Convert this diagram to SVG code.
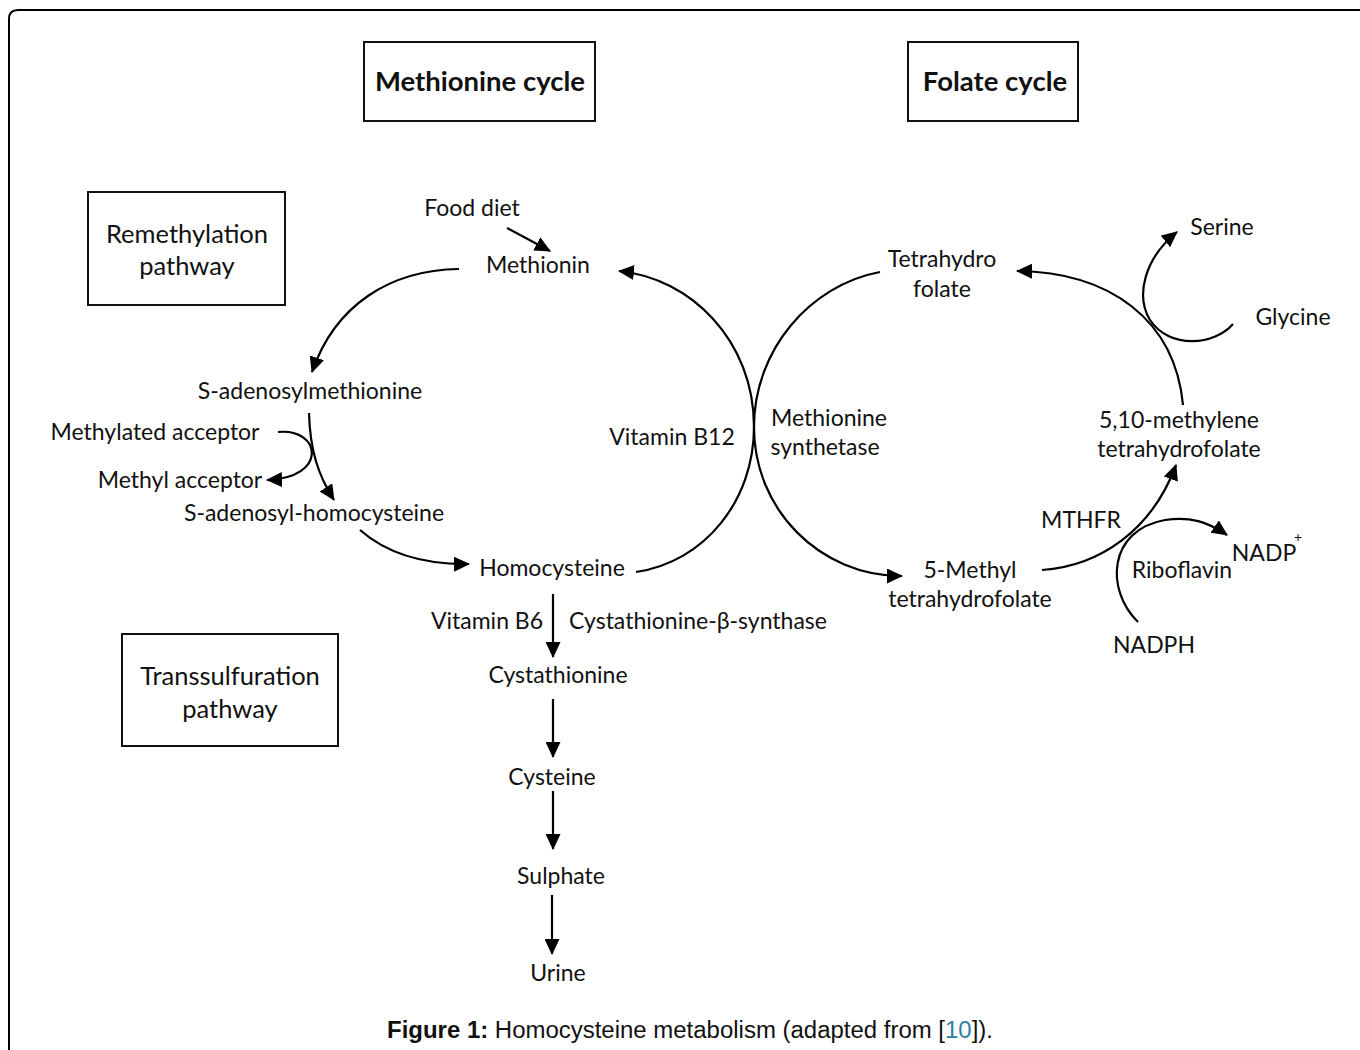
<svg xmlns="http://www.w3.org/2000/svg" width="1360" height="1050" viewBox="0 0 1360 1050">
<style>
text{font-family:Lato,"Open Sans","Liberation Sans",sans-serif;font-size:23px;fill:#111;text-anchor:middle}
.title{font-weight:bold;font-size:27.5px}
.bt{font-size:25.5px}
.box{fill:#fff;stroke:#111;stroke-width:2}
.c{fill:none;stroke:#000;stroke-width:2.2}
.cap{font-family:"Liberation Sans",Arial,sans-serif;font-size:23px}
</style>
<defs>
<marker id="ah" markerUnits="userSpaceOnUse" markerWidth="17" markerHeight="15" refX="15" refY="7.5" orient="auto">
<path d="M0,0 L16,7.5 L0,15 Z" fill="#000"/>
</marker>
</defs>
<rect width="1360" height="1050" fill="#fff"/>
<path d="M9,1050 V19 Q9,10 18,10 H1360" fill="none" stroke="#000" stroke-width="2"/>

<g id="methionine-cycle-title"><rect class="box" x="364" y="42" width="231" height="79"/><text class="title" x="480" y="91">Methionine cycle</text></g>
<g id="folate-cycle-title"><rect class="box" x="908" y="42" width="170" height="79"/><text class="title" x="995" y="91">Folate cycle</text></g>
<g id="remethylation"><rect class="box" x="88" y="192" width="197" height="113"/><text class="bt" x="187" y="243">Remethylation</text><text class="bt" x="187" y="275">pathway</text></g>
<g id="transsulfuration"><rect class="box" x="122" y="634" width="216" height="112"/><text class="bt" x="230" y="685">Transsulfuration</text><text class="bt" x="230" y="718">pathway</text></g>

<g id="food-diet"><text x="472" y="216">Food diet</text></g>
<g id="methionin"><text x="538" y="273">Methionin</text></g>
<g id="sam"><text x="310" y="399">S-adenosylmethionine</text></g>
<g id="methylated-acceptor"><text x="155" y="440">Methylated acceptor</text></g>
<g id="methyl-acceptor"><text x="180" y="488">Methyl acceptor</text></g>
<g id="sah"><text x="314" y="521">S-adenosyl-homocysteine</text></g>
<g id="homocysteine"><text x="552" y="576">Homocysteine</text></g>
<g id="vitamin-b12"><text x="672" y="445">Vitamin B12</text></g>
<g id="methionine-synthetase"><text x="829" y="426">Methionine</text><text x="825" y="455">synthetase</text></g>
<g id="thf"><text x="942" y="267">Tetrahydro</text><text x="942" y="297">folate</text></g>
<g id="serine"><text x="1222" y="235">Serine</text></g>
<g id="glycine"><text x="1293" y="325">Glycine</text></g>
<g id="methylene-thf"><text x="1179" y="428">5,10-methylene</text><text x="1179" y="457">tetrahydrofolate</text></g>
<g id="mthfr"><text x="1081" y="528">MTHFR</text></g>
<g id="nadp"><text x="1264" y="561">NADP</text><text x="1298" y="542" style="font-size:14px">+</text></g>
<g id="riboflavin"><text x="1182" y="578">Riboflavin</text></g>
<g id="methyl-thf"><text x="970" y="578">5-Methyl</text><text x="970" y="607">tetrahydrofolate</text></g>
<g id="nadph"><text x="1154" y="653">NADPH</text></g>
<g id="vitamin-b6"><text x="487" y="629">Vitamin B6</text></g>
<g id="cbs"><text x="698" y="629">Cystathionine-β-synthase</text></g>
<g id="cystathionine"><text x="558" y="683">Cystathionine</text></g>
<g id="cysteine"><text x="552" y="785">Cysteine</text></g>
<g id="sulphate"><text x="561" y="884">Sulphate</text></g>
<g id="urine"><text x="558" y="981">Urine</text></g>

<g id="connectors">
<path class="c" d="M507,228 L550,251" marker-end="url(#ah)"/>
<path class="c" d="M459,269 C390,270 335,305 312,372" marker-end="url(#ah)"/>
<path class="c" d="M309,413 C310,450 318,475 334,500" marker-end="url(#ah)"/>
<path class="c" d="M278,432 C322,428 328,478 267,480" marker-end="url(#ah)"/>
<path class="c" d="M360,530 Q400,565 469,564" marker-end="url(#ah)"/>
<path class="c" d="M636,572 C705,562 754,500 754,427 C754,340 690,278 619,271" marker-end="url(#ah)"/>
<path class="c" d="M880,272 C810,285 754,350 754,427 C754,510 820,576 902,576" marker-end="url(#ah)"/>
<path class="c" d="M1042,570 C1100,566 1152,530 1176,465" marker-end="url(#ah)"/>
<path class="c" d="M1138,622 C1105,590 1108,530 1165,520 C1190,516 1208,522 1227,535" marker-end="url(#ah)"/>
<path class="c" d="M1183,405 C1175,320 1110,272 1017,271" marker-end="url(#ah)"/>
<path class="c" d="M1233,324 C1215,345 1170,350 1150,320 C1135,295 1145,258 1177,232" marker-end="url(#ah)"/>
<path class="c" d="M553,594 V657" marker-end="url(#ah)"/>
<path class="c" d="M553,699 V757" marker-end="url(#ah)"/>
<path class="c" d="M553,791 V849" marker-end="url(#ah)"/>
<path class="c" d="M552,895 V954" marker-end="url(#ah)"/>
</g>

<text class="cap" x="690" y="1038" textLength="606" lengthAdjust="spacingAndGlyphs"><tspan font-weight="bold">Figure 1:</tspan> Homocysteine metabolism (adapted from [<tspan fill="#2e7f9e">10</tspan>]).</text>
</svg>
